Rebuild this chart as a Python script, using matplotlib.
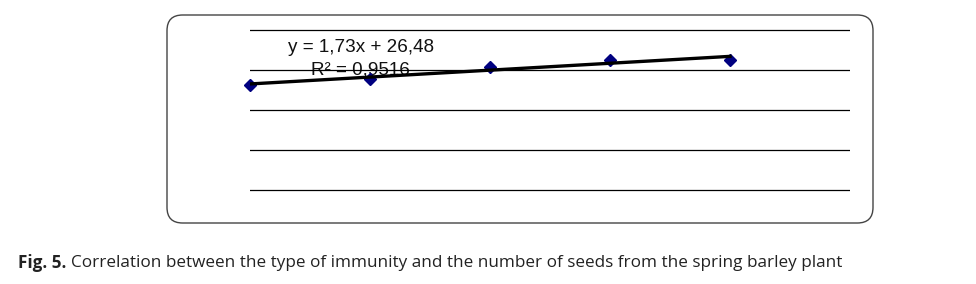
import numpy as np
import matplotlib.pyplot as plt
from matplotlib.patches import FancyBboxPatch

# immunity type index vs number of seeds
xVals = [0, 1, 2, 3, 4]
seeds = [26.25, 27.75, 30.8, 32.5, 32.5]
yTicks = [0, 10, 20, 30, 40]
eqText = 'y = 1,73x + 26,48'
r2Text = 'R² = 0,9516'

fig = plt.figure(figsize=(9.76, 2.84), dpi=100)

# rounded frame around the chart
frame = FancyBboxPatch((167 / 976, 1 - 223 / 284), (873 - 167) / 976, (223 - 15) / 284,
                       boxstyle='round,pad=0,rounding_size=0.016', transform=fig.transFigure,
                       facecolor='none', edgecolor='#444444', linewidth=1.0,
                       mutation_aspect=976 / 284, zorder=-1)
fig.patches.append(frame)

# axes padded by 2px top/bottom so the outer gridlines are not clipped
ax = fig.add_axes([250 / 976, 1 - 192 / 284, 600 / 976, 164 / 284])
ax.set_xlim(0, 5)
ax.set_ylim(-0.5, 40.5)
ax.set_yticks(yTicks)
ax.set_xticks([])
ax.tick_params(left=False, labelleft=False)
ax.grid(axis='y', color='black', linewidth=0.9)
for s in ax.spines.values():
    s.set_visible(False)
ax.patch.set_alpha(0)

coef = np.polyfit(xVals, seeds, 1)
xFit = np.array([xVals[0], xVals[-1]])
ax.plot(xFit, np.polyval(coef, xFit), color='black', linewidth=2.4, zorder=3)
ax.plot(xVals, seeds, linestyle='none', marker='D', markersize=6.5,
        color='#000080', zorder=2, clip_on=False)

ax.text(288 / 976, 1 - 48 / 284, eqText, transform=fig.transFigure,
        fontsize=13.6, family='Liberation Sans', va='center', ha='left', color='#111111')
ax.text(311 / 976, 1 - 70 / 284, r2Text, transform=fig.transFigure,
        fontsize=13.6, family='Liberation Sans', va='center', ha='left', color='#111111', zorder=1)

fig.text(18 / 976, 1 - 263 / 284, 'Fig. 5.', fontsize=12.3, family='Open Sans',
         fontweight='bold', va='center', ha='left', color='#222222')
fig.text(71 / 976, 1 - 263 / 284,
         'Correlation between the type of immunity and the number of seeds from the spring barley plant',
         fontsize=12.3, family='Open Sans', va='center', ha='left', color='#222222')

fig.savefig('out.png', dpi=100)
